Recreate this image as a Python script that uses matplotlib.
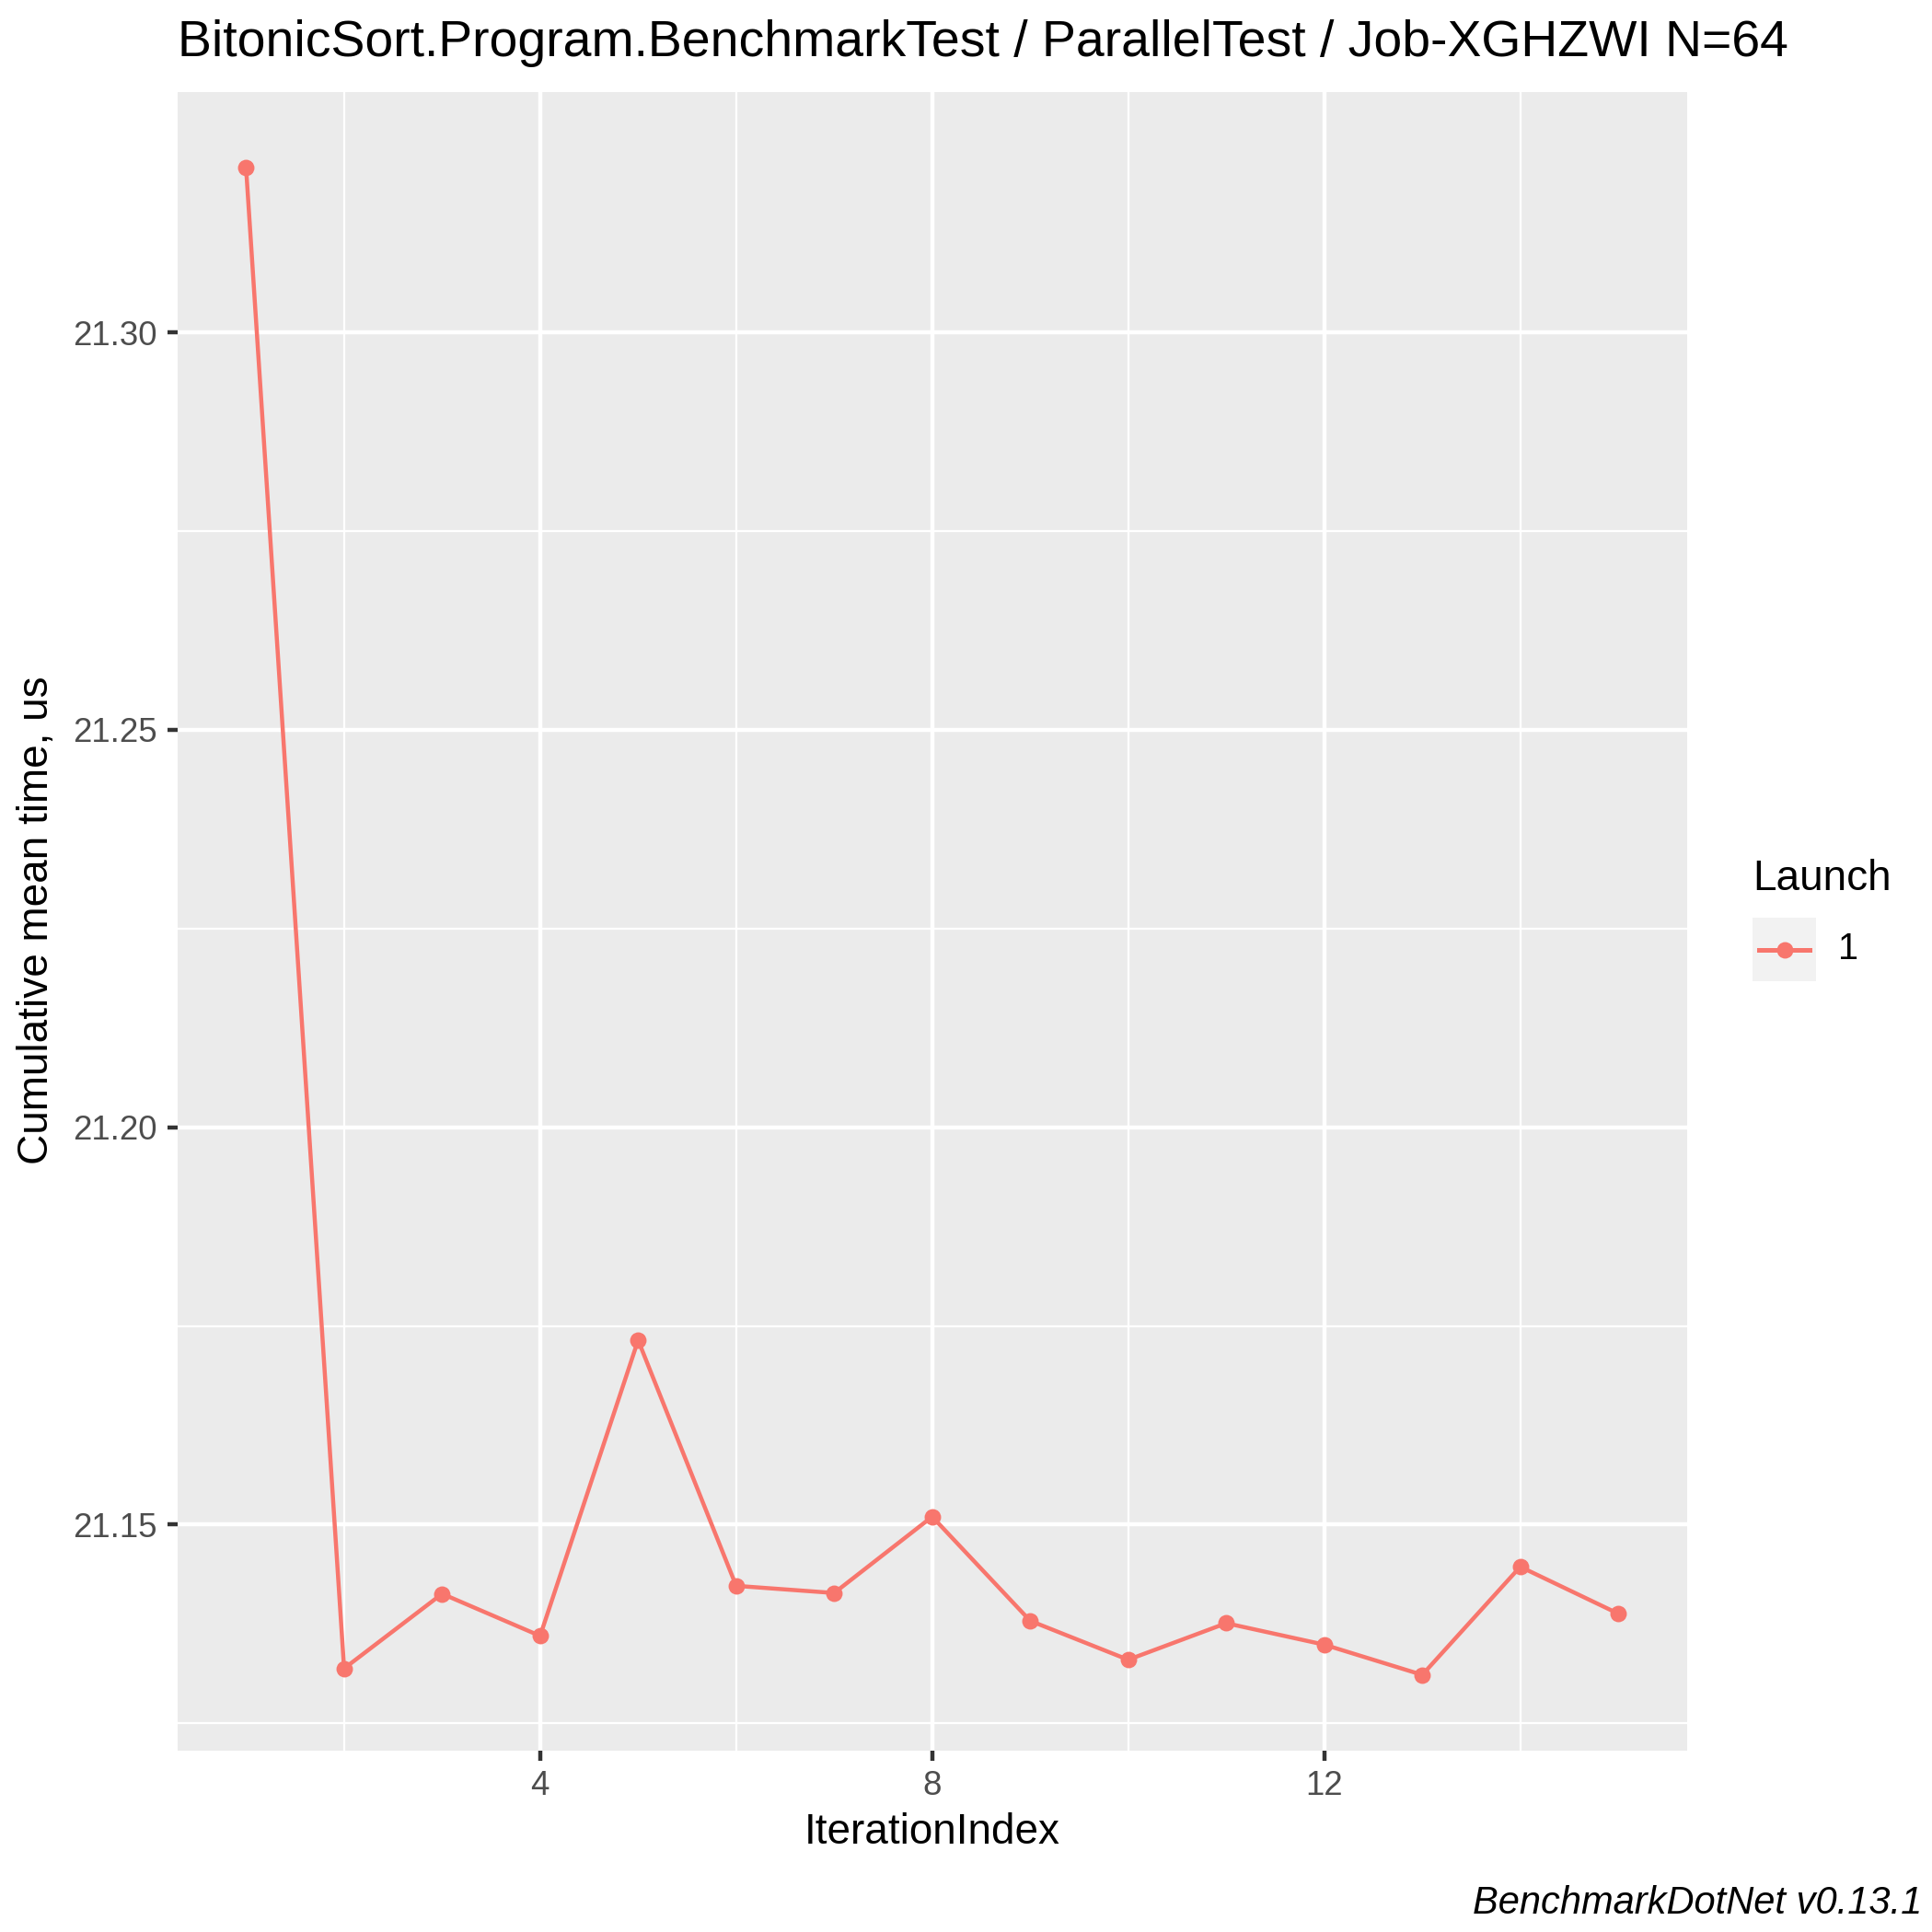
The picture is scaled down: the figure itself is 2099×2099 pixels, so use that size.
import numpy as np
import matplotlib
matplotlib.use("Agg")
import matplotlib.pyplot as plt
from matplotlib.lines import Line2D
from matplotlib.patches import Rectangle

# cumulative mean time per iteration
iteration_index = [1, 2, 3, 4, 5, 6, 7, 8, 9, 10, 11, 12, 13, 14, 15]
cum_mean_us = [21.3207, 21.1319, 21.1413, 21.1360, 21.1732, 21.1423, 21.1414,
               21.1510, 21.1379, 21.1330, 21.1376, 21.1349, 21.1311, 21.1447, 21.1388]
launch_labels = ["1"]

x_major = [4, 8, 12]
x_minor = [2, 6, 10, 14]
y_major = [21.15, 21.20, 21.25, 21.30]
y_minor = [21.125, 21.175, 21.225, 21.275]

plt.rcParams["font.family"] = ["Liberation Sans", "DejaVu Sans"]

col = "#F8766D"
W = 2099
fig = plt.figure(figsize=(W / 300, W / 300), dpi=300)
ax = fig.add_axes([192.8 / W, 1 - 1901.5 / W, (1832.7 - 192.8) / W, (1901.5 - 100.4) / W])
ax.set_facecolor("#EBEBEB")

# ggplot-like 5% expansion
xs = np.array(iteration_index, dtype=float)
ys = np.array(cum_mean_us)
xr = xs.max() - xs.min()
yr = ys.max() - ys.min()
ax.set_xlim(xs.min() - 0.05 * xr, xs.max() + 0.05 * xr)
ax.set_ylim(ys.min() - 0.05 * yr, ys.max() + 0.05 * yr)

ax.set_xticks(x_major)
ax.set_xticks(x_minor, minor=True)
ax.set_yticks(y_major)
ax.set_yticks(y_minor, minor=True)
ax.set_yticklabels(["%.2f" % v for v in y_major])

for v in x_minor:
    ax.axvline(v, color="white", lw=0.55, zorder=0.5)
for v in y_minor:
    ax.axhline(v, color="white", lw=0.55, zorder=0.5)
for v in x_major:
    ax.axvline(v, color="white", lw=1.07, zorder=0.6)
for v in y_major:
    ax.axhline(v, color="white", lw=1.07, zorder=0.6)

ax.plot(xs, ys, color=col, lw=1.07, zorder=2)
ax.plot(xs, ys, "o", color=col, ms=4.3, mew=0, zorder=3)

for s in ax.spines.values():
    s.set_visible(False)
ax.tick_params(which="major", length=2.75, width=1.07, color="#333333",
               labelsize=8.8, labelcolor="#4D4D4D", pad=2.5)
ax.tick_params(which="minor", length=0)

fig.text(192.8 / W, 1 - 47 / W, "BitonicSort.Program.BenchmarkTest / ParallelTest / Job-XGHZWI N=64",
         fontsize=13.3, ha="left", va="center", color="black")
fig.text((192.8 + 1832.7) / 2 / W, 1 - 1991 / W, "IterationIndex",
         fontsize=11, ha="center", va="center")
fig.text(40 / W, 1 - 1000 / W, "Cumulative mean time, us",
         fontsize=11, ha="center", va="center", rotation=90)
fig.text(2088 / W, 1 - 2068 / W, "BenchmarkDotNet v0.13.1",
         fontsize=10, ha="right", va="center", style="italic")

# legend
fig.text(1904 / W, 1 - 955 / W, "Launch", fontsize=11, ha="left", va="center")
key_x0, key_y0, key = 1904, 997, 69
fig.add_artist(Rectangle((key_x0 / W, 1 - (key_y0 + key) / W), key / W, key / W,
                         facecolor="#F2F2F2", edgecolor="none", transform=fig.transFigure))
ky = 1 - (key_y0 + key / 2) / W
fig.add_artist(Line2D([(key_x0 + 7) / W, (key_x0 + key - 7) / W], [ky, ky],
                      color=col, lw=1.2, transform=fig.transFigure))
fig.add_artist(Line2D([(key_x0 + key / 2) / W], [ky], marker="o", color=col, ms=4.3,
                      mew=0, transform=fig.transFigure))
fig.text((key_x0 + key + 24) / W, ky, launch_labels[0], fontsize=9.5, ha="left", va="center")

fig.savefig("out.png", dpi=300, facecolor="white")
